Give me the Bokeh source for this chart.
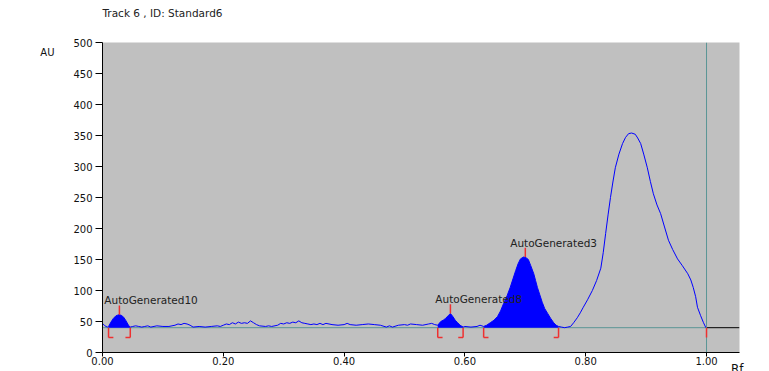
import numpy as np
from bokeh.plotting import figure
from bokeh.models import Range1d, FixedTicker, NumeralTickFormatter, Label, LinearAxis, Title
from bokeh.embed import file_html
from bokeh.resources import INLINE

# Densitometric scan of track 6 (Rf vs absorbance units)
rf = [
    0.000, 0.004, 0.008, 0.010, 0.014, 0.018, 0.022, 0.027, 0.031, 0.035, 0.039, 0.043, 0.046,
    0.050, 0.055, 0.060, 0.065, 0.070, 0.075, 0.080, 0.090, 0.100, 0.110, 0.115, 0.120, 0.125,
    0.130, 0.135, 0.140, 0.145, 0.150, 0.160, 0.170, 0.180, 0.190, 0.195, 0.200, 0.205, 0.210,
    0.215, 0.220, 0.225, 0.230, 0.235, 0.240, 0.245, 0.250, 0.255, 0.260, 0.270, 0.275, 0.280,
    0.290, 0.295, 0.300, 0.305, 0.310, 0.315, 0.320, 0.325, 0.330, 0.335, 0.340, 0.345, 0.350,
    0.355, 0.360, 0.365, 0.370, 0.380, 0.390, 0.400, 0.405, 0.410, 0.420, 0.430, 0.440, 0.450,
    0.460, 0.470, 0.475, 0.480, 0.490, 0.500, 0.505, 0.510, 0.520, 0.530, 0.540, 0.545, 0.550,
    0.555, 0.560, 0.564, 0.568, 0.572, 0.576, 0.580, 0.584, 0.588, 0.592, 0.597,
    0.600, 0.610, 0.620, 0.625,
    0.631, 0.636, 0.642, 0.648, 0.654, 0.659, 0.664, 0.670, 0.675, 0.680, 0.684, 0.688, 0.692,
    0.697, 0.701, 0.705, 0.709, 0.714, 0.717, 0.720, 0.724, 0.728, 0.732, 0.737, 0.742, 0.747,
    0.751, 0.755,
    0.760, 0.765, 0.770, 0.775, 0.780, 0.786, 0.791, 0.796, 0.803, 0.811, 0.818, 0.825, 0.829,
    0.833, 0.837, 0.841, 0.845, 0.849, 0.855, 0.861, 0.866, 0.871, 0.876, 0.882, 0.886, 0.891,
    0.896, 0.902, 0.907, 0.912, 0.918, 0.924, 0.930, 0.937, 0.944, 0.952, 0.960, 0.969, 0.974,
    0.978, 0.982, 0.985, 0.990, 0.995, 0.999,
]
au = [
    47, 43, 41, 42, 49, 55, 59, 61, 60, 57, 51, 44, 41,
    42, 43, 42, 41, 42, 43, 41, 43, 42, 42, 43, 44, 46,
    45, 47, 46, 44, 41, 42, 41, 42, 43, 42, 44, 46, 45,
    48, 46, 49, 47, 48, 47, 51, 48, 45, 43, 42, 43, 42,
    44, 47, 46, 48, 47, 49, 48, 51, 48, 47, 46, 45, 46,
    45, 47, 45, 47, 45, 44, 45, 47, 45, 44, 45, 46, 45,
    44, 41, 43, 41, 44, 45, 44, 46, 45, 44, 46, 47, 45,
    44, 50, 52, 55, 59, 63, 58, 52, 48, 44, 41,
    42, 41, 42, 44,
    42, 44, 48, 52, 58, 67, 79, 92, 105, 120, 132, 143, 151,
    154, 153, 150, 140, 127, 116, 105, 93, 81, 71, 63, 55, 48,
    44, 42,
    41, 40, 41, 42, 48, 56, 64, 73, 85, 100, 116, 136, 161,
    192, 222, 250, 275, 298, 320, 337, 347, 353, 354, 352, 346, 337,
    320, 298, 276, 256, 238, 224, 204, 181, 166, 151, 140, 127, 117,
    105, 90, 73, 60, 48, 40,
]

# Integrated peaks
peak_names = ["AutoGenerated10", "AutoGenerated8", "AutoGenerated3"]
peak_start = [0.010, 0.555, 0.631]
peak_end = [0.046, 0.597, 0.755]
peak_apex_rf = [0.028, 0.576, 0.700]
peak_apex_au = [61, 63, 154]

baseline_au = 40
front_rf = 1.00

x_ticks = [0.0, 0.2, 0.4, 0.6, 0.8, 1.0]
y_ticks = [0, 50, 100, 150, 200, 250, 300, 350, 400, 450, 500]

title_text = "Track  6 , ID: Standard6"
y_unit = "AU"
x_unit = "Rf"

FONT = "DejaVu Sans"
BLUE = "#0000ff"
RED = "#ee3030"
TEAL = "#5b9696"

p = figure(width=769, height=371, output_backend="svg", toolbar_location=None,
           x_range=Range1d(0, 1.0546), y_range=Range1d(0, 500),
           min_border_left=102, min_border_right=30, min_border_top=42, min_border_bottom=19)
p.background_fill_color = "#c0c0c0"
p.border_fill_color = "white"
p.outline_line_color = None
p.grid.visible = False
p.title.visible = False

for ax in (p.xaxis[0], p.yaxis[0]):
    ax.axis_line_color = "black"
    ax.major_tick_line_color = "black"
    ax.minor_tick_line_color = None
    ax.major_tick_in = 0
    ax.major_label_text_font = FONT
    ax.major_label_text_font_size = "10px"
    ax.major_label_text_color = "#111111"

p.xaxis.ticker = FixedTicker(ticks=x_ticks)
p.xaxis.formatter = NumeralTickFormatter(format="0.00")
p.xaxis.major_tick_out = 4
p.xaxis.major_label_standoff = 0
p.yaxis.ticker = FixedTicker(ticks=y_ticks)
p.yaxis.major_tick_out = 7
p.yaxis.major_label_standoff = 3

# Unit caption of the y axis, sitting left of the tick labels near the top
au_axis = LinearAxis(ticker=FixedTicker(ticks=[484]), major_label_overrides={484: y_unit})
au_axis.axis_line_color = None
au_axis.major_tick_line_color = None
au_axis.minor_tick_line_color = None
au_axis.major_tick_in = 0
au_axis.major_tick_out = 0
au_axis.major_label_standoff = 16
au_axis.major_label_text_font = FONT
au_axis.major_label_text_font_size = "10px"
au_axis.major_label_text_color = "#111111"
p.add_layout(au_axis, "left")

# Header: a blank spacer line next to the frame, the track title above it
p.add_layout(Title(text=" ", standoff=8, text_font=FONT, text_font_size="10.5px"), "above")
p.add_layout(Title(text=title_text, align="left", vertical_align="top", standoff=0,
                   text_font=FONT, text_font_size="10.5px", text_font_style="normal",
                   text_color="#222222"), "above")

# Unit caption of the x axis, at the lower right edge
p.add_layout(Title(text=x_unit, align="right", vertical_align="top", standoff=-12, offset=-4,
                   text_font=FONT, text_font_size="12px", text_font_style="normal",
                   text_color="#111111"), "below")

rf_arr = np.array(rf)
au_arr = np.array(au, dtype=float)

# Baseline, solvent front
p.line([0, front_rf], [baseline_au, baseline_au], line_color=TEAL, line_width=1)
p.line([front_rf, 1.0546], [baseline_au, baseline_au], line_color="black", line_width=1)
p.line([front_rf, front_rf], [0, 500], line_color=TEAL, line_width=1)

# Filled integration areas
for s, e in zip(peak_start, peak_end):
    m = (rf_arr >= s) & (rf_arr <= e)
    p.varea(x=rf_arr[m], y1=baseline_au, y2=au_arr[m], fill_color=BLUE)

# Scan trace
p.line(rf_arr, au_arr, line_color=BLUE, line_width=1)

# Integration brackets below baseline
depth = 16
arm = 0.008
xs0, ys0, xs1, ys1 = [], [], [], []
for s, e in zip(peak_start, peak_end):
    xs0 += [s, s, e, e]
    ys0 += [baseline_au, baseline_au - depth, baseline_au, baseline_au - depth]
    xs1 += [s, s + arm, e, e - arm]
    ys1 += [baseline_au - depth, baseline_au - depth, baseline_au - depth, baseline_au - depth]
xs0.append(front_rf); ys0.append(baseline_au)
xs1.append(front_rf); ys1.append(baseline_au - depth)
p.segment(x0=xs0, y0=ys0, x1=xs1, y1=ys1, line_color=RED, line_width=1.5)

# Apex markers and peak names
p.segment(x0=peak_apex_rf, y0=peak_apex_au, x1=peak_apex_rf,
          y1=[a + 15 for a in peak_apex_au], line_color=RED, line_width=1.5)
for name, x, y in zip(peak_names, peak_apex_rf, peak_apex_au):
    p.add_layout(Label(x=x - 0.025, y=y + 23, text=name, text_font=FONT,
                       text_font_size="10.5px", text_color="#222222",
                       text_align="left", text_baseline="alphabetic"))

open("out.html", "w").write(file_html(p, INLINE))
